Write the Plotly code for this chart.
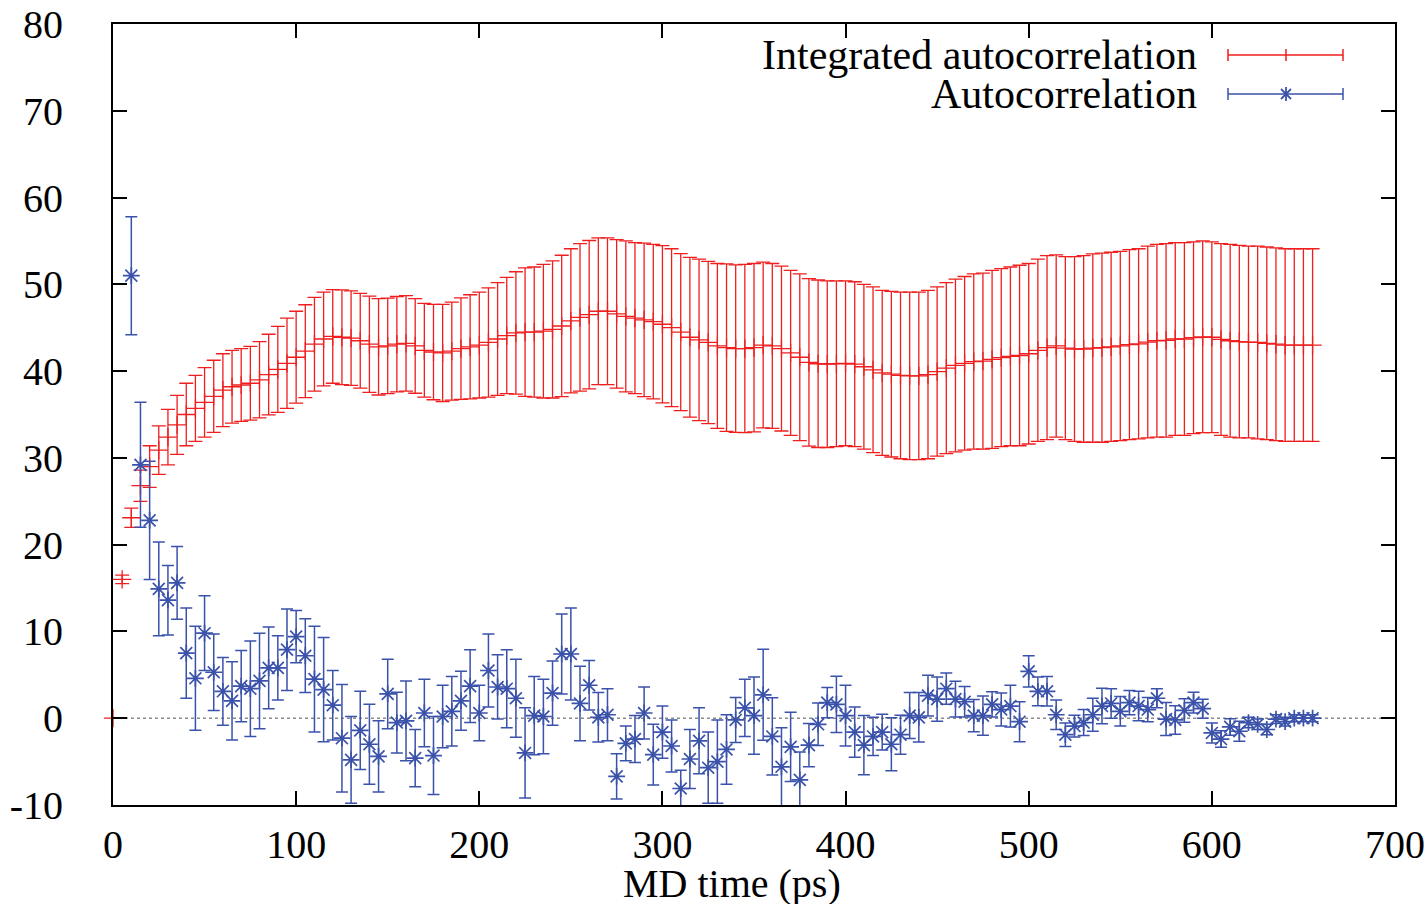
import plotly.graph_objects as go

# ---------------- data ----------------
time_int = [0, 5, 10, 15, 20, 25, 30, 35, 40, 45,
            50, 55, 60, 65, 70, 75, 80, 85, 90, 95,
            100, 105, 110, 115, 120, 125, 130, 135, 140, 145,
            150, 155, 160, 165, 170, 175, 180, 185, 190, 195,
            200, 205, 210, 215, 220, 225, 230, 235, 240, 245,
            250, 255, 260, 265, 270, 275, 280, 285, 290, 295,
            300, 305, 310, 315, 320, 325, 330, 335, 340, 345,
            350, 355, 360, 365, 370, 375, 380, 385, 390, 395,
            400, 405, 410, 415, 420, 425, 430, 435, 440, 445,
            450, 455, 460, 465, 470, 475, 480, 485, 490, 495,
            500, 505, 510, 515, 520, 525, 530, 535, 540, 545,
            550, 555, 560, 565, 570, 575, 580, 585, 590, 595,
            600, 605, 610, 615, 620, 625, 630, 635, 640, 645,
            650, 655]

int_autocorr = [0, 16.0, 23.1, 26.8, 29.0, 30.9, 32.4, 33.8, 35.0, 35.7,
                36.4, 37.1, 37.8, 38.2, 38.4, 38.6, 39.0, 39.6, 40.2, 40.9,
                41.6, 42.3, 43.1, 43.7, 44.0, 43.9, 43.8, 43.5, 43.1, 42.8,
                42.9, 43.1, 43.2, 42.9, 42.4, 42.2, 42.1, 42.3, 42.6, 42.8,
                43.0, 43.3, 43.7, 44.1, 44.4, 44.5, 44.5, 44.6, 44.8, 45.2,
                45.8, 46.2, 46.5, 46.9, 46.9, 46.6, 46.3, 46.1, 45.9, 45.7,
                45.4, 45.0, 44.5, 43.9, 43.6, 43.3, 42.9, 42.7, 42.6, 42.6,
                42.7, 43.0, 42.9, 42.6, 42.1, 41.6, 41.0, 40.85, 40.8, 40.85,
                40.9, 40.8, 40.5, 40.15, 39.8, 39.65, 39.5, 39.45, 39.45, 39.6,
                39.95, 40.35, 40.65, 40.9, 41.1, 41.15, 41.35, 41.55, 41.7, 41.8,
                42.0, 42.4, 42.7, 42.9, 42.65, 42.55, 42.55, 42.65, 42.7, 42.8,
                42.9, 43.05, 43.15, 43.35, 43.5, 43.55, 43.7, 43.7, 43.85, 43.95,
                43.9, 43.65, 43.5, 43.4, 43.35, 43.3, 43.2, 43.1, 43.0, 43.0,
                43.0, 43.0]

int_autocorr_err = [0, 0.5, 1.1, 1.8, 2.4, 2.8, 3.2, 3.4, 3.6, 3.8,
                    4.0, 4.15, 4.2, 4.2, 4.2, 4.25, 4.4, 4.65, 4.95, 5.2,
                    5.3, 5.35, 5.4, 5.4, 5.4, 5.45, 5.45, 5.45, 5.55, 5.55,
                    5.5, 5.5, 5.5, 5.45, 5.4, 5.5, 5.6, 5.65, 5.85, 6.0,
                    6.1, 6.3, 6.5, 6.7, 7.05, 7.4, 7.5, 7.7, 7.9, 8.15,
                    8.3, 8.5, 8.55, 8.45, 8.45, 8.55, 8.7, 8.7, 8.85, 8.9,
                    9.05, 9.1, 9.05, 9.2, 9.3, 9.35, 9.5, 9.65, 9.65, 9.7,
                    9.7, 9.55, 9.5, 9.5, 9.5, 9.6, 9.65, 9.65, 9.6, 9.55,
                    9.5, 9.5, 9.5, 9.55, 9.5, 9.55, 9.6, 9.65, 9.65, 9.7,
                    9.75, 9.85, 9.95, 10.0, 10.1, 10.15, 10.25, 10.25, 10.3, 10.4,
                    10.4, 10.5, 10.6, 10.5, 10.55, 10.65, 10.75, 10.85, 10.9, 10.9,
                    10.9, 10.95, 10.95, 11.05, 11.1, 11.15, 11.1, 11.1, 11.05, 11.05,
                    11.0, 11.05, 11.1, 11.1, 11.05, 11.1, 11.1, 11.1, 11.1, 11.1,
                    11.1, 11.1]

time_ac = [10, 15, 20, 25, 30, 35, 40, 45, 50, 55,
           60, 65, 70, 75, 80, 85, 90, 95, 100, 105,
           110, 115, 120, 125, 130, 135, 140, 145, 150, 155,
           160, 165, 170, 175, 180, 185, 190, 195, 200, 205,
           210, 215, 220, 225, 230, 235, 240, 245, 250, 255,
           260, 265, 270, 275, 280, 285, 290, 295, 300, 305,
           310, 315, 320, 325, 330, 335, 340, 345, 350, 355,
           360, 365, 370, 375, 380, 385, 390, 395, 400, 405,
           410, 415, 420, 425, 430, 435, 440, 445, 450, 455,
           460, 465, 470, 475, 480, 485, 490, 495, 500, 505,
           510, 515, 520, 525, 530, 535, 540, 545, 550, 555,
           560, 565, 570, 575, 580, 585, 590, 595, 600, 605,
           610, 615, 620, 625, 630, 635, 640, 645, 650, 655]

autocorr = [51.0, 29.2, 22.8, 14.9, 13.6, 15.6, 7.5, 4.6, 9.8, 5.3,
            3.1, 2.0, 3.7, 3.4, 4.3, 5.8, 5.8, 7.9, 9.4, 7.2,
            4.5, 3.3, 1.5, -2.3, -4.8, -1.4, -3.0, -4.4, 2.8, -0.5,
            -0.3, -4.6, 0.6, -4.3, 0.2, 0.8, 2.0, 3.7, 0.6, 5.5,
            3.6, 3.4, 2.3, -4.0, 0.3, 0.2, 2.9, 7.4, 7.4, 1.7,
            3.8, 0.1, 0.4, -6.7, -2.9, -2.4, 0.6, -4.2, -1.6, -3.2,
            -8.1, -4.7, -2.6, -5.7, -5.0, -3.6, -0.2, 1.2, 0.3, 2.7,
            -2.1, -5.6, -3.3, -7.1, -3.1, -0.7, 1.8, 1.6, 0.3, -1.6,
            -3.1, -2.1, -1.6, -3.0, -1.9, 0.3, 0.1, 2.6, 2.2, 3.4,
            2.2, 1.9, 0.3, 0.3, 1.6, 1.0, 1.4, -0.4, 5.4, 3.1,
            3.1, 0.4, -1.9, -0.9, -0.5, 0.4, 1.4, 1.7, 0.8, 1.8,
            1.4, 1.0, 2.3, -0.1, -0.2, 0.9, 1.8, 1.1, -1.7, -2.4,
            -1.0, -1.5, -0.5, -0.7, -1.3, -0.1, -0.4, 0.0, 0.0, 0.0]

autocorr_err = [6.8, 7.2, 6.8, 5.4, 4.0, 4.2, 5.2, 6.0, 4.3, 4.4,
                3.9, 4.5, 4.1, 5.5, 5.5, 4.7, 3.7, 4.7, 3.0, 4.25,
                6.1, 6.0, 4.0, 6.2, 5.0, 4.5, 4.6, 4.1, 4.0, 3.5,
                4.6, 3.3, 3.9, 4.5, 3.6, 4.0, 3.4, 4.2, 3.2, 4.2,
                3.7, 4.5, 4.5, 5.2, 4.5, 4.3, 3.7, 4.6, 5.3, 4.3,
                2.85, 2.85, 3.0, 2.6, 2.0, 2.7, 3.0, 3.5, 3.0, 3.0,
                2.1, 3.4, 3.8, 4.1, 4.8, 4.0, 2.6, 3.3, 4.45, 5.25,
                4.45, 4.5, 4.0, 3.2, 2.5, 2.45, 1.75, 3.25, 3.5, 2.9,
                3.4, 2.2, 2.05, 3.05, 2.25, 2.65, 2.85, 2.35, 2.55, 1.8,
                2.05, 1.75, 1.85, 2.25, 1.45, 1.9, 2.4, 2.3, 1.8, 1.65,
                1.7, 1.7, 1.35, 1.25, 1.5, 1.9, 2.05, 1.7, 1.7, 1.4,
                1.7, 1.4, 1.1, 1.9, 1.65, 1.35, 1.2, 1.1, 1.15, 0.95,
                0.95, 1.15, 0.6, 0.6, 0.6, 0.5, 0.5, 0.4, 0.4, 0.4]

x_ticks = [0, 100, 200, 300, 400, 500, 600, 700]
x_tick_labels = ["0", "100", "200", "300", "400", "500", "600", "700"]
y_ticks = [-10, 0, 10, 20, 30, 40, 50, 60, 70, 80]
y_tick_labels = ["-10", "0", "10", "20", "30", "40", "50", "60", "70", "80"]

series_names = ["Integrated autocorrelation", "Autocorrelation"]
x_title = "MD time (ps)"

# ---------------- style ----------------
W, H = 1427, 904
ML, MR, MT, MB = 113, 32, 24, 99
PW, PH = W - ML - MR, H - MT - MB
RED = "rgb(240,30,30)"
BLUE = "rgb(58,82,170)"
FONT = "Liberation Serif"


def px(xp):
    return (xp - ML) / PW


def py(yp):
    return (H - MB - yp) / PH


fig = go.Figure()

fig.add_trace(go.Scatter(
    x=time_int, y=int_autocorr, mode="markers", name=series_names[0],
    marker=dict(symbol="cross-thin", size=13, color=RED,
                line=dict(color=RED, width=1.3)),
    error_y=dict(type="data", array=int_autocorr_err, visible=True,
                 color=RED, thickness=1.3, width=7),
    showlegend=False, cliponaxis=False))

fig.add_trace(go.Scatter(
    x=time_ac, y=autocorr, mode="markers", name=series_names[1],
    marker=dict(symbol="asterisk", size=14, color=BLUE,
                line=dict(color=BLUE, width=1.7)),
    error_y=dict(type="data", array=autocorr_err, visible=True,
                 color=BLUE, thickness=1.5, width=6),
    showlegend=False, cliponaxis=True))

shapes = []
# dotted zero line
shapes.append(dict(type="line", xref="paper", x0=0, x1=1, yref="y", y0=0, y1=0,
                   line=dict(color="rgb(140,140,140)", width=1.5, dash="dot"),
                   layer="below"))

# legend (gnuplot style: text on the left, sample on the right)
annotations = []
legend_rows = [(55, RED, "plus"), (94, BLUE, "star")]
for (yy, col, kind), name in zip(legend_rows, series_names):
    annotations.append(dict(text=name, xref="paper", yref="paper",
                            x=px(1199), y=py(yy), xanchor="right", yanchor="middle",
                            showarrow=False, font=dict(family=FONT, size=42, color="black")))
    x0, x1, xm = px(1228), px(1343), px(1286)
    shapes.append(dict(type="line", xref="paper", yref="paper", x0=x0, x1=x1,
                       y0=py(yy), y1=py(yy), line=dict(color=col, width=1.5)))
    for xe in (x0, x1):
        shapes.append(dict(type="line", xref="paper", yref="paper", x0=xe, x1=xe,
                           y0=py(yy - 6), y1=py(yy + 6), line=dict(color=col, width=1.5)))
    if kind == "plus":
        shapes.append(dict(type="line", xref="paper", yref="paper", x0=xm, x1=xm,
                           y0=py(yy - 6), y1=py(yy + 6), line=dict(color=col, width=1.5)))
    else:
        shapes.append(dict(type="line", xref="paper", yref="paper", x0=xm, x1=xm,
                           y0=py(yy - 7), y1=py(yy + 7), line=dict(color=col, width=1.8)))
        shapes.append(dict(type="line", xref="paper", yref="paper", x0=px(1281), x1=px(1291),
                           y0=py(yy - 5), y1=py(yy + 5), line=dict(color=col, width=1.8)))
        shapes.append(dict(type="line", xref="paper", yref="paper", x0=px(1281), x1=px(1291),
                           y0=py(yy + 5), y1=py(yy - 5), line=dict(color=col, width=1.8)))

annotations.append(dict(text=x_title, xref="paper", yref="paper",
                        x=px(732), y=py(883), xanchor="center", yanchor="middle",
                        showarrow=False, font=dict(family=FONT, size=40, color="black")))

axis_common = dict(ticks="inside", ticklen=14, tickwidth=1.5, tickcolor="black",
                   showline=True, linewidth=2, linecolor="black", mirror="ticks",
                   showgrid=False, zeroline=False, automargin=False,
                   tickfont=dict(family=FONT, size=40, color="black"))

fig.update_layout(
    width=W, height=H,
    margin=dict(l=ML, r=MR, t=MT, b=MB, pad=0, autoexpand=False),
    paper_bgcolor="white", plot_bgcolor="white",
    xaxis=dict(range=[0, 700], tickvals=x_ticks, ticktext=x_tick_labels,
               ticklabelstandoff=3, **axis_common),
    yaxis=dict(range=[-10, 80], tickvals=y_ticks, ticktext=y_tick_labels,
               ticklabelstandoff=40, **axis_common),
    shapes=shapes, annotations=annotations, showlegend=False,
)

fig.write_html("out.html")
